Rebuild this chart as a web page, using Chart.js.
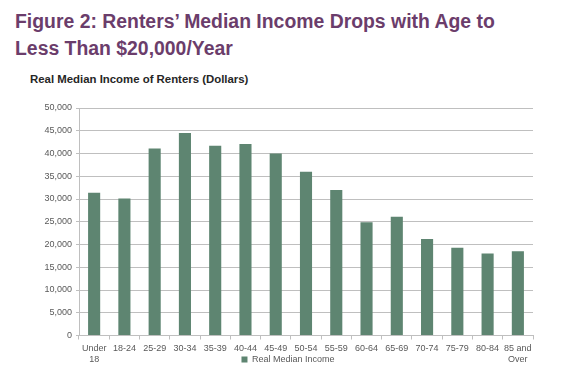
<!DOCTYPE html>
<html>
<head>
<meta charset="utf-8">
<script src="https://cdn.jsdelivr.net/npm/chart.js@4"></script>
<style>
    body { margin: 0; background: #fff; font-family: 'Liberation Sans', Arial, sans-serif; }
    #wrap { position: relative; width: 576px; height: 377px; overflow: hidden; }
    h1 { position: absolute; left: 15px; top: 8px; margin: 0; font-size: 19.4px; line-height: 27px; font-weight: bold; color: #6b3d6b; }
    h2 { position: absolute; left: 30px; top: 73px; margin: 0; font-size: 11.4px; font-weight: bold; color: #262626; }
    #box { position: absolute; left: 0; top: 90px; width: 576px; height: 301px; }
</style>
</head>
<body>
<div id="wrap">
    <h1>Figure 2: Renters’ Median Income Drops with Age to<br>Less Than $20,000/Year</h1>
    <h2>Real Median Income of Renters (Dollars)</h2>
    <div id="box"><canvas id="incomeChart"></canvas></div>
</div>
<script>
// age groups (multi-line labels as arrays)
const ageGroups = [['Under', '18'], '18-24', '25-29', '30-34', '35-39', '40-44', '45-49',
    '50-54', '55-59', '60-64', '65-69', '70-74', '75-79', '80-84', ['85 and', 'Over']];

const medianIncome = [31400, 30100, 41100, 44500, 41700, 42100, 40000,
    36000, 32000, 24900, 26100, 21200, 19300, 18000, 18500];

const yTicks = [0, 5000, 10000, 15000, 20000, 25000, 30000, 35000, 40000, 45000, 50000];

// Excel puts the legend right next to the 2nd line of the axis labels,
// so move the legend up and center it on the whole canvas
const legendNudge = {
    id: 'legendNudge',
    afterLayout(chart) {
        const l = chart.legend;
        if (!l) return;
        const dy = -17;
        const dx = chart.width / 2 - (l.left + l.right) / 2;
        l.top += dy; l.bottom += dy;
        l.left += dx; l.right += dx;
    }
};

document.addEventListener('DOMContentLoaded', function() {
    const ctx = document.getElementById('incomeChart').getContext('2d');
    const textColor = '#595959';
    const lineColor = '#bfbfbf';
    const font = { family: "'Liberation Sans', Arial, sans-serif", size: 9 };

    new Chart(ctx, {
        type: 'bar',
        data: {
            labels: ageGroups,
            datasets: [{
                label: 'Real Median Income',
                data: medianIncome,
                backgroundColor: '#5e8571',
                borderWidth: 0,
                categoryPercentage: 1.0,
                barPercentage: 0.4
            }]
        },
        options: {
            responsive: true,
            maintainAspectRatio: false,
            animation: false,
            layout: {
                padding: { top: 18, right: 43, left: 0, bottom: 0 }
            },
            plugins: {
                legend: {
                    display: true,
                    position: 'bottom',
                    labels: {
                        boxWidth: 6,
                        boxHeight: 6,
                        padding: 4,
                        color: textColor,
                        font: font
                    }
                },
                tooltip: { enabled: false }
            },
            scales: {
                x: {
                    grid: {
                        display: true,
                        drawOnChartArea: false,
                        drawTicks: true,
                        tickLength: 4,
                        color: lineColor,
                        offset: true
                    },
                    border: { display: true, color: lineColor },
                    ticks: {
                        color: textColor,
                        padding: 3,
                        maxRotation: 0,
                        autoSkip: false,
                        font: { family: font.family, size: 9, lineHeight: 1.25 }
                    }
                },
                y: {
                    min: 0,
                    max: 50000,
                    afterBuildTicks: function(scale) {
                        scale.ticks = yTicks.map(v => ({ value: v }));
                    },
                    grid: {
                        color: lineColor,
                        tickLength: 3,
                        drawTicks: true
                    },
                    border: { display: true, color: lineColor },
                    ticks: {
                        color: textColor,
                        padding: 4,
                        font: font,
                        callback: function(value) {
                            return value.toLocaleString('en-US');
                        }
                    },
                    afterFit: function(scale) {
                        scale.width = 79;
                    }
                }
            }
        },
        plugins: [legendNudge]
    });
});
</script>
</body>
</html>
